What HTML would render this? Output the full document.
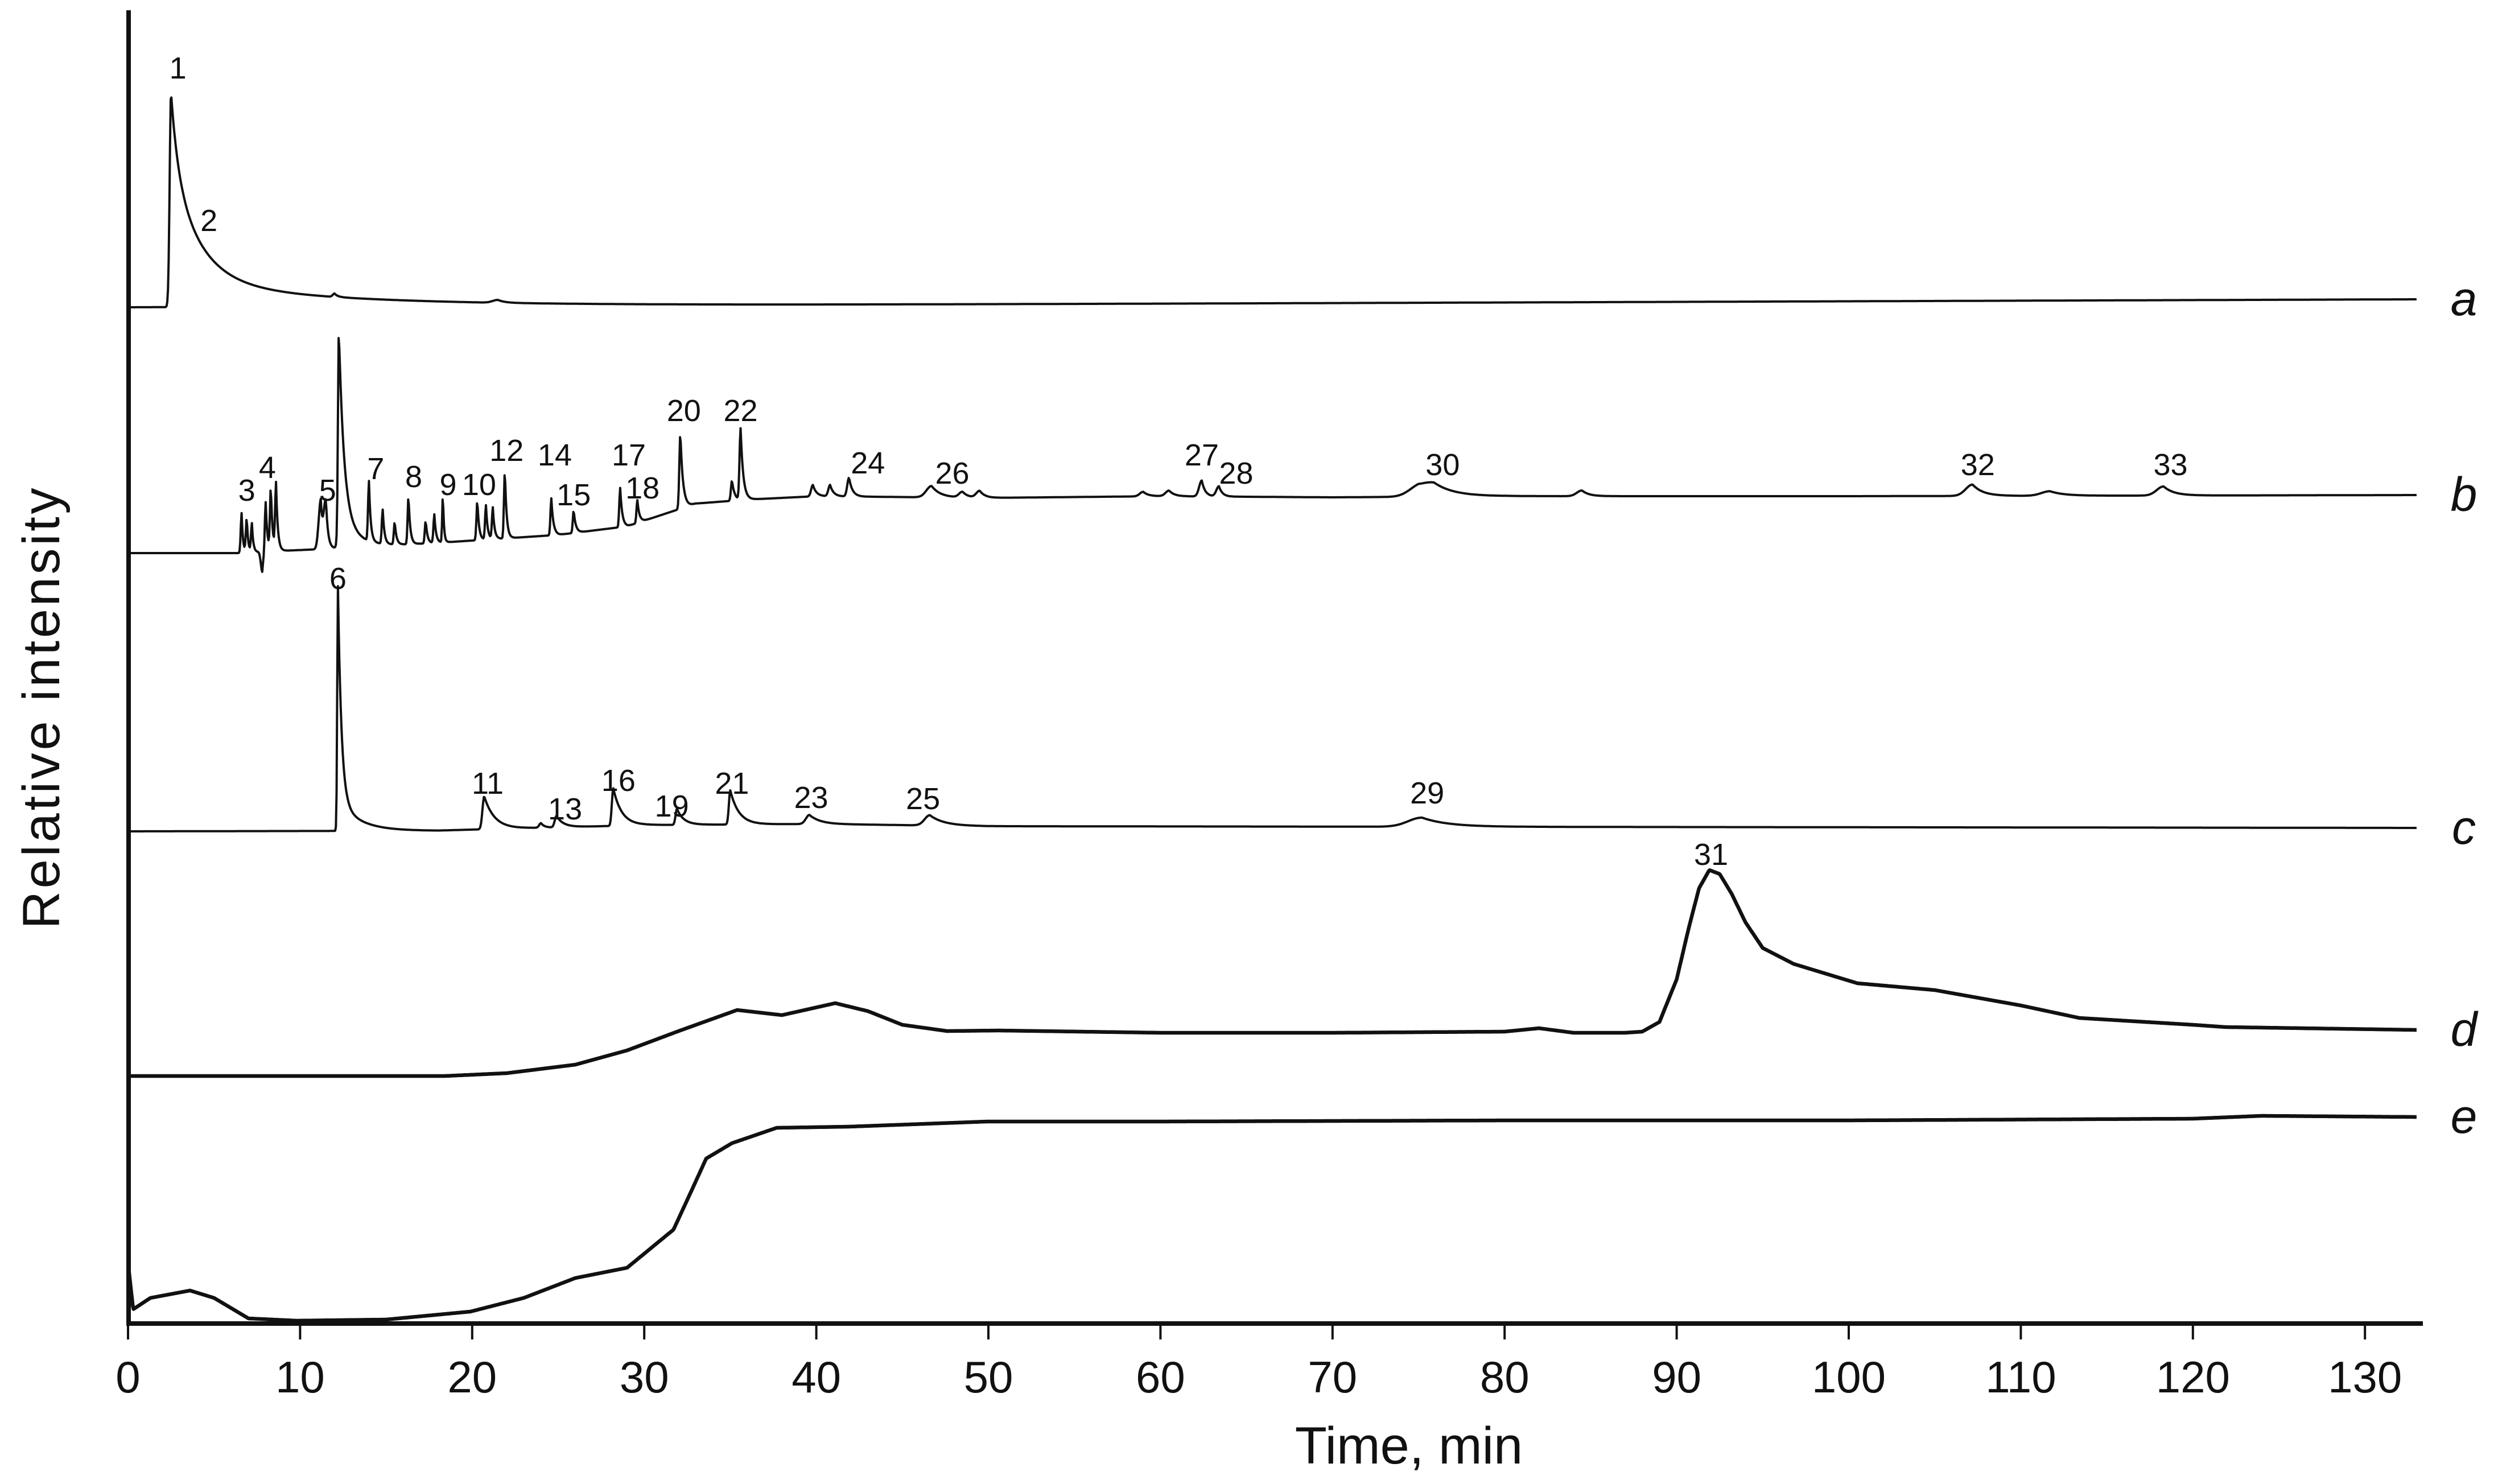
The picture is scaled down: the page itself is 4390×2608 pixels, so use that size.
<!DOCTYPE html>
<html><head><meta charset="utf-8"><style>
html,body{margin:0;padding:0;background:#fff}
svg{display:block}
text{font-family:"Liberation Sans",Arial,sans-serif;fill:#111}
</style></head><body>
<svg id="chart" width="4390" height="2608" viewBox="0 0 4390 2608" xmlns="http://www.w3.org/2000/svg">
<g id="axes"></g>
<g id="traces"></g>
<g id="labels"></g>
<text x="2476" y="2572" font-size="92" text-anchor="middle">Time, min</text>
<text x="0" y="0" font-size="92" text-anchor="middle" transform="translate(104,1245) rotate(-90)" textLength="775">Relative intensity</text>
</svg>
<script>
// x-axis ticks (minutes)
const xTicks = [0,10,20,30,40,50,60,70,80,90,100,110,120,130];
// trace names
const traceNames = ['a','b','c','d','e'];
// baseline drift keypoints [time, signal]
const baseA = [[0,0],[133,14]];
const baseB = [[0,0],[6.5,0],[9,4],[15,12],[20,22],[25,32],[29,47],[31,67],[33,87],[36,94],[40,100],[50,97],[60,100],[70,98],[80,100],[100,100],[133,102]];
const baseC = [[0,0],[18,1],[20,3],[30,11],[40,13],[50,9],[133,6]];
// peaks [time, height, rise, tail]
const peaksA = [[2.5,120,0.08,0.4],[2.5,210,0.08,1.6],[2.5,47,0.08,9],[12,6,0.1,0.2],[21.5,5,0.3,0.4]];
const peaksB = [[6.6,70,0.05,0.08],[6.9,60,0.05,0.08],[7.2,50,0.05,0.08],[7.8,-35,0.08,0.08],[8.0,90,0.05,0.1],[8.3,110,0.05,0.1],[8.6,116,0.05,0.1],
 [11.2,85,0.12,0.12],[11.5,80,0.12,0.12],[12.25,330,0.05,0.3],[12.3,55,0.1,1.0],[14.0,105,0.05,0.1],[14.8,60,0.05,0.1],[15.5,40,0.05,0.1],
 [16.3,85,0.05,0.1],[17.3,40,0.05,0.1],[17.8,50,0.05,0.1],[18.3,85,0.04,0.06],[20.3,70,0.05,0.1],[20.8,60,0.05,0.1],[21.2,55,0.05,0.1],
 [21.9,120,0.05,0.1],[24.6,65,0.05,0.12],[25.9,40,0.05,0.12],[28.6,69,0.05,0.12],[29.6,40,0.05,0.12],[32.1,133,0.06,0.15],[35.1,36,0.06,0.15],
 [35.6,125,0.06,0.15],[39.8,20,0.1,0.2],[40.8,20,0.1,0.2],[41.9,33,0.1,0.2],[46.7,20,0.3,0.5],[48.5,10,0.2,0.3],[49.5,12,0.2,0.3],
 [59,8,0.2,0.3],[60.5,10,0.2,0.3],[62.4,28,0.15,0.2],[63.4,18,0.15,0.2],[75,12,0.6,1.0],[75.9,20,0.8,1.2],[84.5,10,0.3,0.4],
 [107.2,20,0.4,0.6],[111.7,8,0.5,0.8],[118.3,16,0.4,0.6]];
const peaksC = [[12.2,375,0.04,0.2],[12.2,55,0.05,1.2],[20.7,58,0.1,0.6],[24,8,0.1,0.2],[24.9,20,0.1,0.4],[28.2,66,0.08,0.5],
 [31.9,28,0.08,0.4],[35.0,60,0.08,0.5],[39.6,16,0.2,0.6],[46.6,18,0.3,0.8],[75.2,16,0.8,1.5]];
// keypoint traces [time, signal]
const seriesD = [[0,0],[15,0],[18.4,0],[22,5],[26,20],[29,45],[32,79],[35.4,116],[38,107],[41.1,128],[43,114],[45,90],[47.6,79],[50.6,80],
 [60,76],[70,76],[80,78],[82,84],[84,76],[87,76],[88,78],[89,95],[90,170],[90.7,260],[91.3,330],[91.9,362],[92.5,355],[93.2,320],[94,270],[95,225],
 [96.8,197],[100.5,163],[105,151],[110,124],[113.4,102],[120,90],[121.9,86],[133,81]];
const seriesE = [[0,102],[0.3,20],[1.3,40],[3.6,53],[5,40],[7,4],[9.8,0],[15,2],[19.9,16],[23,40],[26,75],[29,93],[31.7,160],[32.8,232],
 [33.6,285],[35.1,312],[37.7,339],[41.9,341],[49.9,350],[60,350],[80,352],[100,352],[120,355],[124,360],[133,358]];
// peak labels [text, time, trace, y]
const peakLabels = [['1',2.9,'a',118],['2',4.7,'a',386],['3',6.9,'b',860],['4',8.1,'b',820],['5',11.6,'b',860],['6',12.2,'b',1015],
 ['7',14.4,'b',822],['8',16.6,'b',836],['9',18.6,'b',850],['10',20.4,'b',850],['12',22.0,'b',790],['14',24.8,'b',798],['15',25.9,'b',868],
 ['17',29.1,'b',798],['18',29.9,'b',856],['20',32.3,'b',720],['22',35.6,'b',720],['24',43.0,'b',812],['26',47.9,'b',830],['27',62.4,'b',798],
 ['28',64.4,'b',830],['30',76.4,'b',815],['32',107.5,'b',815],['33',118.7,'b',815],['11',20.9,'c',1375],['13',25.4,'c',1420],['16',28.5,'c',1370],
 ['19',31.6,'c',1415],['21',35.1,'c',1375],['23',39.7,'c',1400],['25',46.2,'c',1402],['29',75.5,'c',1392],['31',92.0,'d',1500]];
const traceOffsets = {a:540,b:972,c:1461,d:1891,e:2321};

const X0=225, PX=30.24;
function xs(t){return X0+PX*t;}
const NS='http://www.w3.org/2000/svg';
function lin(pts,t){
  if(t<=pts[0][0])return pts[0][1];
  for(let i=1;i<pts.length;i++){if(t<=pts[i][0]){const a=pts[i-1],b=pts[i];return a[1]+(b[1]-a[1])*(t-a[0])/(b[0]-a[0]);}}
  return pts[pts.length-1][1];
}
function pk(p,t){const d=t-p[0];if(d<0)return p[1]*Math.exp(-0.5*(d/p[2])*(d/p[2]));return p[1]*Math.exp(-d/p[3]);}
function sig(base,peaks,t){let s=lin(base,t);for(const p of peaks)s+=pk(p,t);return s;}

const axes=document.getElementById('axes');
let yl=document.createElementNS(NS,'line');
yl.setAttribute('x1',226);yl.setAttribute('x2',226);yl.setAttribute('y1',18);yl.setAttribute('y2',2330);
yl.setAttribute('stroke','#111');yl.setAttribute('stroke-width',8);


axes.appendChild(yl);
let xl=document.createElementNS(NS,'line');
xl.setAttribute('x1',222);xl.setAttribute('x2',4258);xl.setAttribute('y1',2326);xl.setAttribute('y2',2326);
xl.setAttribute('stroke','#111');xl.setAttribute('stroke-width',8);


axes.appendChild(xl);
for(const v of xTicks){
  const tk=document.createElementNS(NS,'line');
  tk.setAttribute('x1',xs(v));tk.setAttribute('x2',xs(v));tk.setAttribute('y1',2326);tk.setAttribute('y2',2354);
  tk.setAttribute('stroke','#111');tk.setAttribute('stroke-width',4);
  
  
  axes.appendChild(tk);
  const tl=document.createElementNS(NS,'text');
  tl.setAttribute('x',xs(v));tl.setAttribute('y',2447);tl.setAttribute('font-size',78);tl.setAttribute('text-anchor','middle');
  tl.textContent=v;
  
  
  axes.appendChild(tl);
}

const tr=document.getElementById('traces');
function drawTrace(name,fn,width){
  let d='';const off=traceOffsets[name];
  for(let t=0;t<=133.0001;t+=0.04){d+=(d?'L':'M')+xs(t).toFixed(1)+','+(off-fn(t)).toFixed(1);}
  const p=document.createElementNS(NS,'path');
  p.setAttribute('d',d);p.setAttribute('fill','none');p.setAttribute('stroke','#111');p.setAttribute('stroke-width',width);p.setAttribute('stroke-linejoin','round');
  
  
  tr.appendChild(p);
  const lb=document.createElementNS(NS,'text');
  lb.setAttribute('x',4330);lb.setAttribute('y',off-fn(133)+28);lb.setAttribute('font-size',84);lb.setAttribute('font-style','italic');lb.setAttribute('text-anchor','middle');
  lb.textContent=name;
  
  
  tr.appendChild(lb);
}
drawTrace('a',t=>sig(baseA,peaksA,t),4);
drawTrace('b',t=>sig(baseB,peaksB,t),4);
drawTrace('c',t=>sig(baseC,peaksC,t),4);
drawTrace('d',t=>lin(seriesD,t),6.5);
drawTrace('e',t=>lin(seriesE,t),6.5);

const lg=document.getElementById('labels');
for(const L of peakLabels){
  const t=document.createElementNS(NS,'text');
  t.setAttribute('x',xs(L[1]));t.setAttribute('y',L[3]+20);t.setAttribute('font-size',54);t.setAttribute('text-anchor','middle');
  t.textContent=L[0];
  
  
  lg.appendChild(t);
}
</script>
</body></html>
